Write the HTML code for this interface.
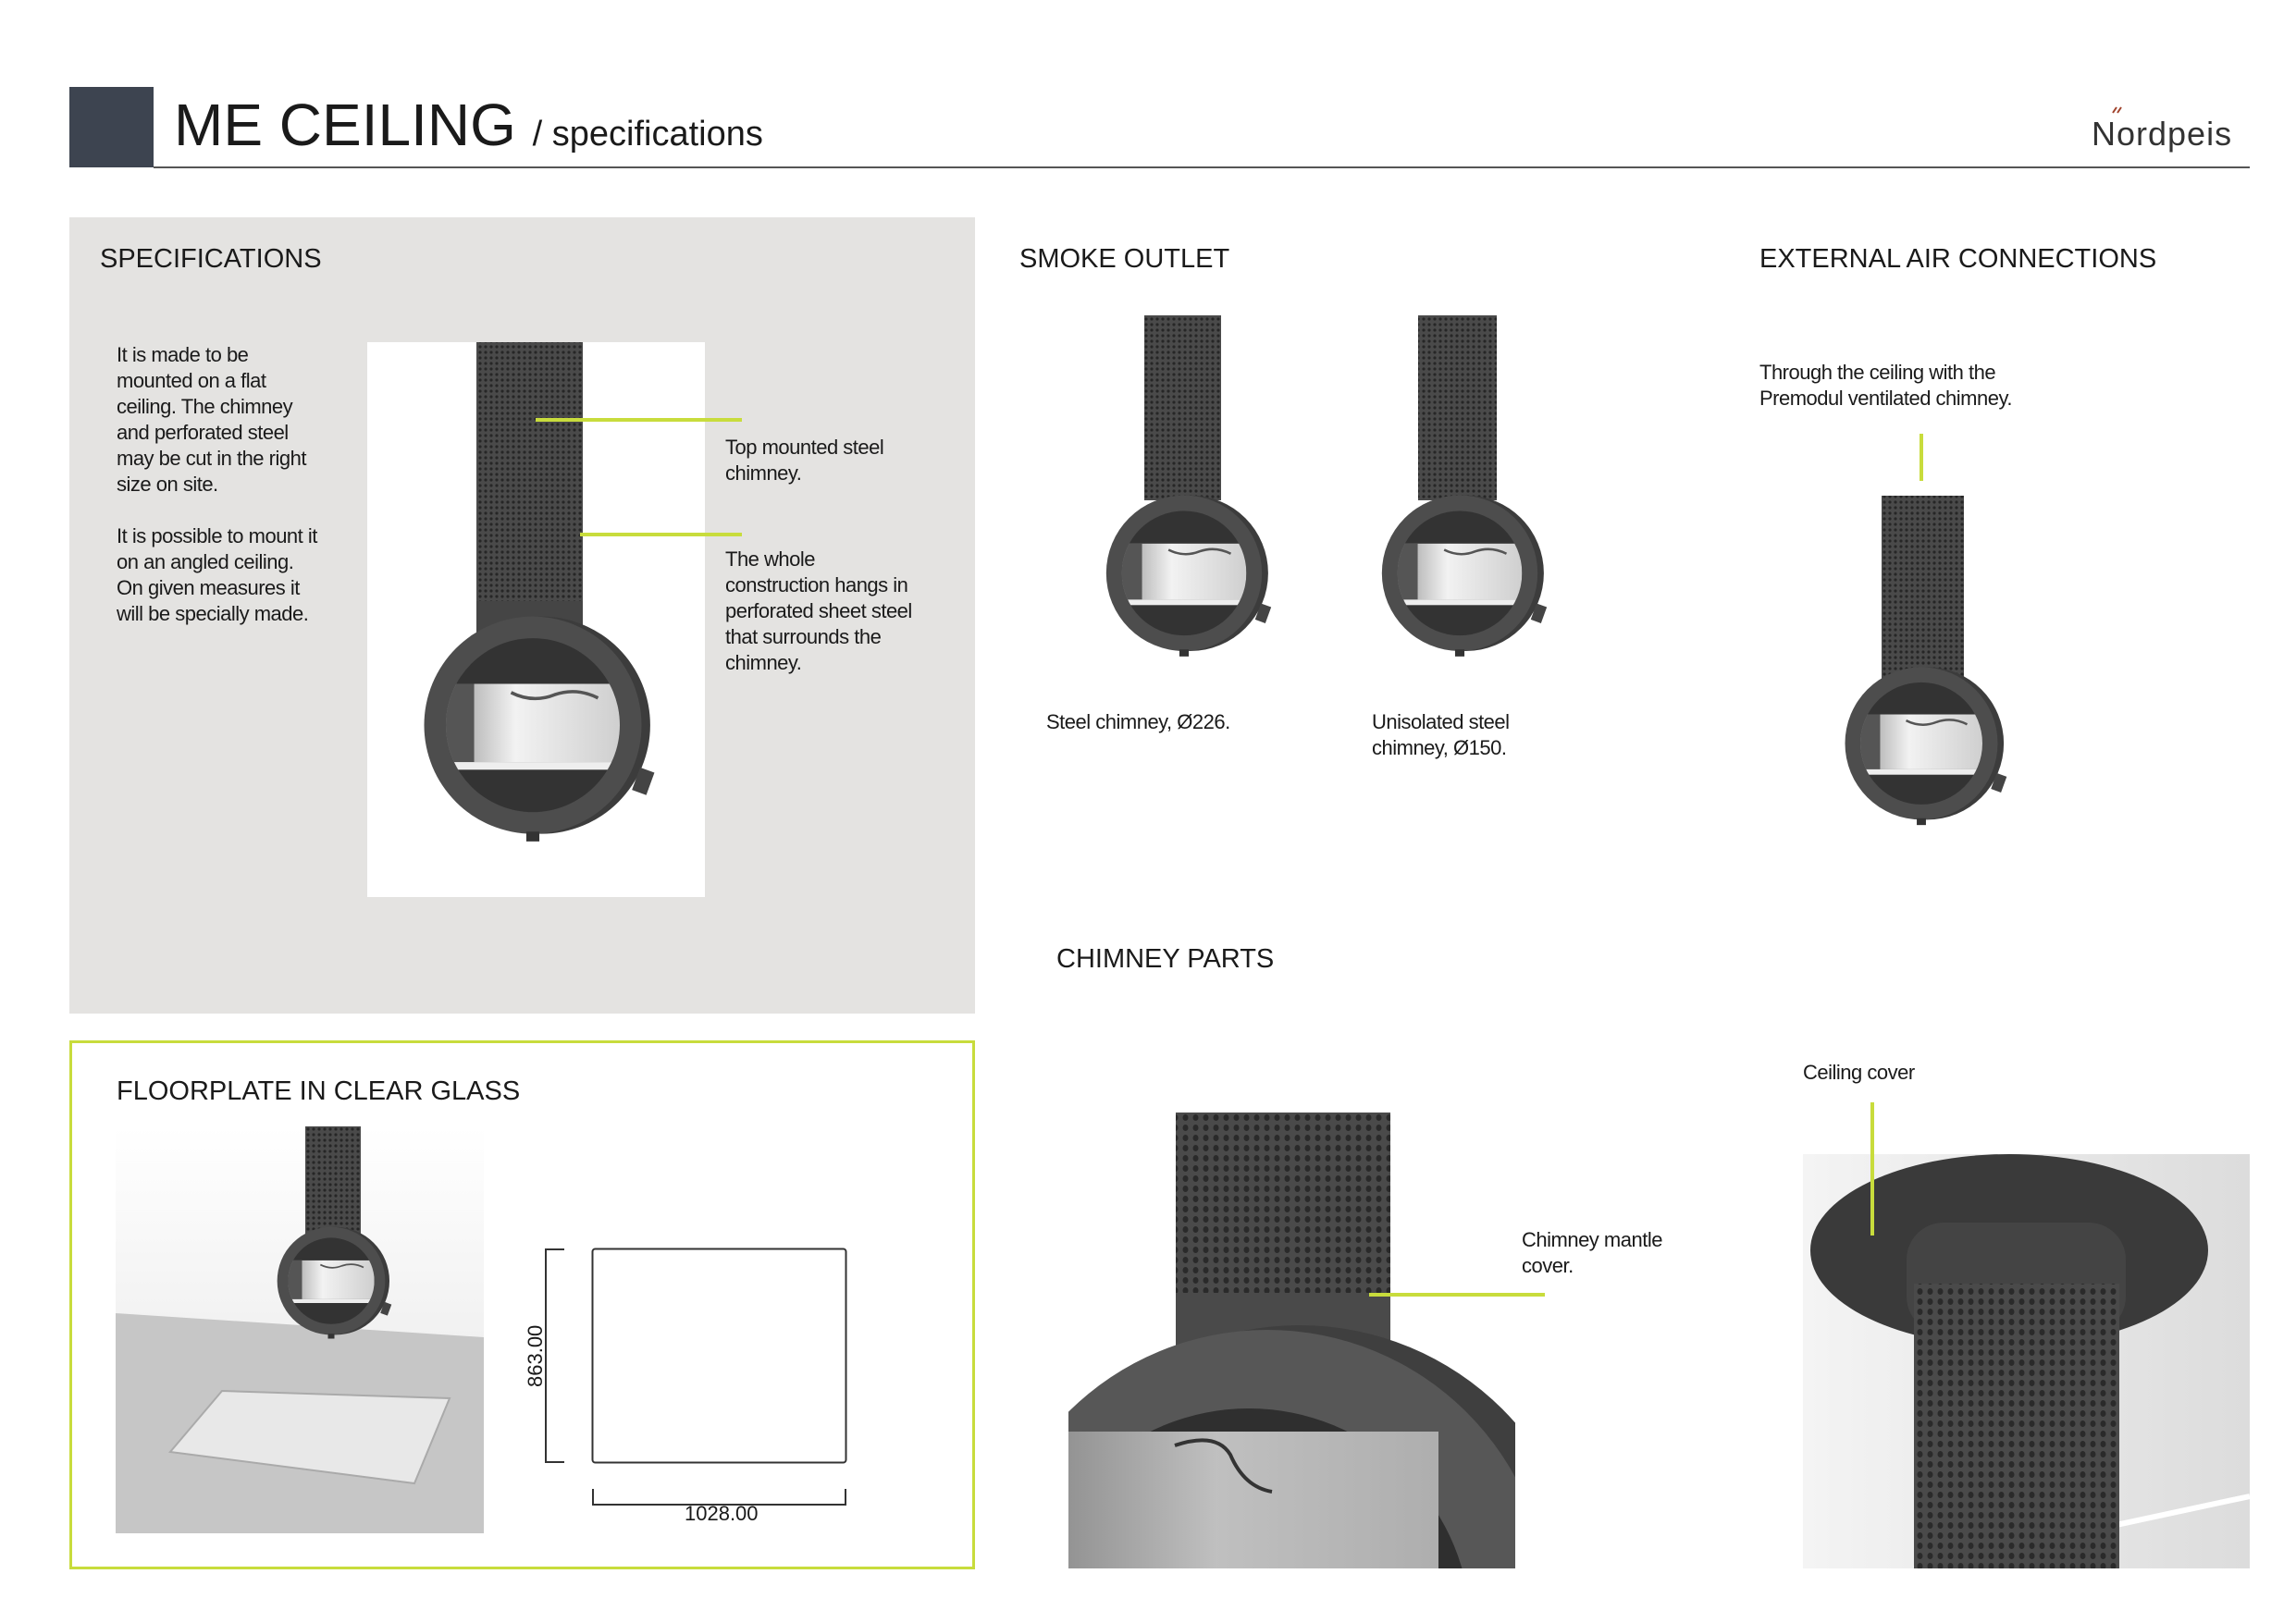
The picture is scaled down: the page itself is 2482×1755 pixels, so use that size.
<!DOCTYPE html>
<html><head><meta charset="utf-8">
<style>
html,body{margin:0;padding:0;background:#fff;overflow:hidden;width:2482px;height:1755px;}
body{position:relative;font-family:"Liberation Sans",sans-serif;color:#1a1a1a;}
svg.main{display:block;position:absolute;left:0;top:0;}
.t{position:absolute;white-space:nowrap;}
.p{position:absolute;font-size:22px;line-height:28px;letter-spacing:-0.5px;}
.h{position:absolute;font-size:29px;white-space:nowrap;}
</style></head><body>
<svg class="main" width="2482" height="1755">
<defs>
<pattern id="perf" width="6" height="6" patternUnits="userSpaceOnUse">
<rect width="6" height="6" fill="#4a4a4a"/><circle cx="3" cy="3" r="1.6" fill="#262626"/>
</pattern>
<pattern id="perfL" width="11" height="11" patternUnits="userSpaceOnUse">
<rect width="11" height="11" fill="#4a4a4a"/><ellipse cx="5.5" cy="5.5" rx="3" ry="3.5" fill="#2a2a2a"/>
</pattern>
<linearGradient id="win" x1="0" x2="1"><stop offset="0" stop-color="#9a9a9a"/><stop offset="0.4" stop-color="#f2f2f2"/><stop offset="1" stop-color="#cfcfcf"/></linearGradient>
<linearGradient id="bg1" x1="0" y1="0" x2="0" y2="1"><stop offset="0" stop-color="#ffffff"/><stop offset="1" stop-color="#e4e4e4"/></linearGradient>
<linearGradient id="bg2" x1="0" y1="0" x2="1" y2="0"><stop offset="0" stop-color="#f4f4f4"/><stop offset="1" stop-color="#dcdcdc"/></linearGradient>
<clipPath id="ic"><circle cx="0" cy="0" r="80"/></clipPath>
<symbol id="stove" viewBox="-120 -110 240 230" overflow="visible">
<circle cx="8" cy="0" r="100" fill="#3c3c3c"/>
<circle cx="0" cy="0" r="100" fill="#4d4d4d"/>
<circle cx="0" cy="0" r="80" fill="#333"/>
<g clip-path="url(#ic)">
<rect x="-80" y="-38" width="160" height="72" fill="url(#win)"/>
<rect x="-80" y="-38" width="26" height="72" fill="#555"/>
<path d="M-20,-30 Q0,-20 20,-28 Q40,-35 60,-25" stroke="#555" stroke-width="3" fill="none"/>
<rect x="-80" y="34" width="160" height="7" fill="#eee"/>
</g>
<rect x="95" y="40" width="14" height="22" fill="#444" transform="rotate(20 100 50)"/>
<rect x="-6" y="98" width="12" height="9" fill="#333"/>
</symbol>
</defs>

<rect x="75" y="94" width="91" height="87" fill="#3d4450"/>
<line x1="166" y1="181" x2="2432" y2="181" stroke="#555" stroke-width="2"/>
<path d="M2284,122 l4,-6 M2289,122 l4,-6" stroke="#a0432c" stroke-width="2"/>

<rect x="75" y="235" width="979" height="861" fill="#e4e3e1"/>
<rect x="397" y="370" width="365" height="600" fill="#fff"/>
<rect x="515" y="370" width="115" height="310" fill="url(#perf)"/>
<rect x="515" y="650" width="115" height="35" fill="#454545"/>
<use href="#stove" x="435" y="649" width="282" height="282" />
<line x1="579" y1="454" x2="802" y2="454" stroke="#c8dc3c" stroke-width="4"/>
<line x1="627" y1="578" x2="802" y2="578" stroke="#c8dc3c" stroke-width="4"/>

<rect x="76.5" y="1126.5" width="976" height="569" fill="none" stroke="#c8dc3c" stroke-width="3"/>
<rect x="125" y="1218" width="398" height="440" fill="url(#bg1)"/>
<polygon points="125,1420 523,1446 523,1658 125,1658" fill="#c6c6c6"/>
<polygon points="240,1504 486,1512 448,1604 184,1570" fill="#e8e8e8" stroke="#aaa" stroke-width="2"/>
<rect x="330" y="1218" width="60" height="120" fill="url(#perf)"/>
<use href="#stove" x="288" y="1318" width="140" height="140"/>
<rect x="640.5" y="1350.5" width="274" height="231" rx="3" fill="none" stroke="#333" stroke-width="2"/>
<path d="M610,1351 H590 V1581 H610" fill="none" stroke="#333" stroke-width="2"/>
<path d="M641,1610 V1627 H914 V1610" fill="none" stroke="#333" stroke-width="2"/>

<rect x="1237" y="341" width="83" height="200" fill="url(#perf)"/>
<use href="#stove" x="1179" y="523" width="202" height="202"/>
<rect x="1533" y="341" width="85" height="200" fill="url(#perf)"/>
<use href="#stove" x="1477" y="523" width="202" height="202"/>

<line x1="2077" y1="469" x2="2077" y2="520" stroke="#c8dc3c" stroke-width="4"/>
<rect x="2034" y="536" width="89" height="200" fill="url(#perf)"/>
<use href="#stove" x="1978" y="709" width="198" height="198"/>

<svg x="1155" y="1203" width="483" height="493" overflow="hidden">
<rect x="116" y="0" width="232" height="200" fill="url(#perfL)"/>
<rect x="116" y="195" width="232" height="70" fill="#4a4a4a"/>
<circle cx="250" cy="540" r="310" fill="#3f3f3f"/>
<circle cx="215" cy="540" r="305" fill="#575757"/>
<circle cx="195" cy="560" r="240" fill="#2f2f2f"/>
<rect x="0" y="345" width="400" height="160" fill="#8d8d8d"/>
<path d="M0,345 H400 V505 H0 Z" fill="url(#win)" opacity="0.5"/>
<path d="M115,360 Q160,345 175,370 Q190,405 220,410" stroke="#333" stroke-width="4" fill="none"/>
</svg>
<line x1="1480" y1="1400" x2="1670" y2="1400" stroke="#c8dc3c" stroke-width="4"/>

<svg x="1949" y="1248" width="483" height="448" overflow="hidden">
<rect width="483" height="448" fill="url(#bg2)"/>
<path d="M120,448 L483,370" stroke="#fff" stroke-width="6"/>
<ellipse cx="223" cy="104" rx="215" ry="104" fill="#3a3a3a"/>
<rect x="112" y="74" width="237" height="120" rx="40" fill="#444"/>
<rect x="120" y="140" width="222" height="320" fill="url(#perfL)"/>
</svg>
<line x1="2024" y1="1192" x2="2024" y2="1336" stroke="#c8dc3c" stroke-width="4"/>
</svg>

<div class="t" style="left:188px;top:98px;font-size:64px;">ME CEILING <span style="font-size:38px;">/ specifications</span></div>
<div class="t" style="left:2261px;top:124px;font-size:36px;color:#333;letter-spacing:1px;">Nordpeis</div>

<div class="h" style="left:108px;top:264px;">SPECIFICATIONS</div>
<div class="p" style="left:126px;top:370px;">It is made to be<br>mounted on a flat<br>ceiling. The chimney<br>and perforated steel<br>may be cut in the  right<br>size on site.<br><br>It is possible to  mount it<br>on an  angled ceiling.<br>On  given measures it<br>will  be specially made.</div>
<div class="p" style="left:784px;top:470px;">Top mounted steel<br>chimney.</div>
<div class="p" style="left:784px;top:591px;">The whole<br>construction hangs  in<br>perforated sheet  steel<br>that surrounds  the<br>chimney.</div>

<div class="h" style="left:126px;top:1164px;">FLOORPLATE IN CLEAR GLASS</div>
<div class="t" style="left:566px;top:1500px;font-size:22px;transform:rotate(-90deg);transform-origin:left top;">863.00</div>
<div class="t" style="left:740px;top:1624px;font-size:22px;">1028.00</div>

<div class="h" style="left:1102px;top:264px;">SMOKE OUTLET</div>
<div class="p" style="left:1131px;top:767px;">Steel chimney, Ø226.</div>
<div class="p" style="left:1483px;top:767px;">Unisolated steel<br>chimney, Ø150.</div>

<div class="h" style="left:1902px;top:264px;">EXTERNAL AIR CONNECTIONS</div>
<div class="p" style="left:1902px;top:389px;">Through the ceiling with the<br>Premodul ventilated chimney.</div>

<div class="h" style="left:1142px;top:1021px;">CHIMNEY PARTS</div>
<div class="p" style="left:1645px;top:1327px;">Chimney mantle<br>cover.</div>
<div class="p" style="left:1949px;top:1146px;">Ceiling cover</div>
</body></html>
